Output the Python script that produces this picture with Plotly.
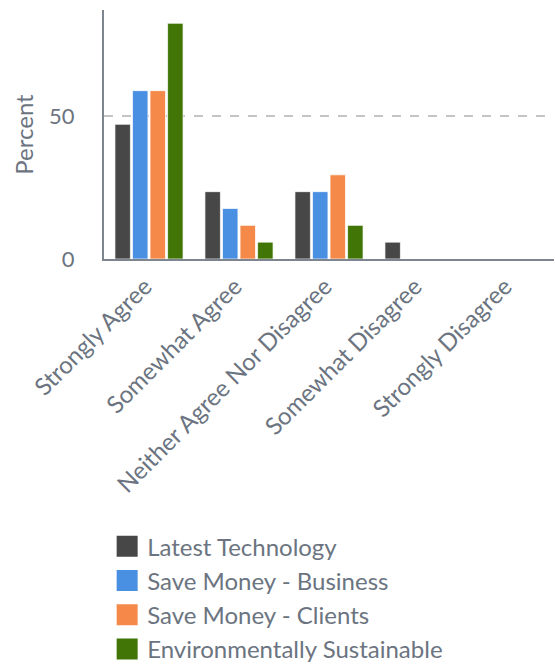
import plotly.graph_objects as go

# Survey responses (n = 17), shown as percent of respondents
categories = ["Strongly Agree", "Somewhat Agree", "Neither Agree Nor Disagree",
              "Somewhat Disagree", "Strongly Disagree"]
latest_technology = [47.06, 23.53, 23.53, 5.88, 0]
save_money_business = [58.82, 17.65, 23.53, 0, 0]
save_money_clients = [58.82, 11.76, 29.41, 0, 0]
environmentally_sustainable = [82.35, 5.88, 11.76, 0, 0]

series_names = ["Latest Technology", "Save Money - Business",
                "Save Money - Clients", "Environmentally Sustainable"]
series_values = [latest_technology, save_money_business,
                 save_money_clients, environmentally_sustainable]
colors = ["#474747", "#4a90e2", "#f5894a", "#417505"]

y_ticks = [0, 50]

text_color = "#6b7480"
axis_color = "#7d858f"
font_family = "Lato, 'Open Sans', sans-serif"

fig = go.Figure()
for name, vals, col in zip(series_names, series_values, colors):
    fig.add_trace(go.Bar(
        x=categories, y=vals, name=name,
        marker=dict(color=col, line=dict(color="rgba(255,255,255,0.7)", width=1)),
        showlegend=False, legendgroup=name,
    ))
    # larger square swatch for the legend entry
    fig.add_trace(go.Scatter(
        x=[None], y=[None], mode="markers", name=name, legendgroup=name,
        marker=dict(symbol="square", size=16, color=col,
                    line=dict(color=col, width=5)),
    ))

fig.update_layout(
    width=555, height=665,
    margin=dict(l=104, r=1, t=10, b=406, autoexpand=False),
    paper_bgcolor="white", plot_bgcolor="white",
    font=dict(family=font_family, size=24, color=text_color),
    barmode="group", bargap=0.22, bargroupgap=0.12,
    showlegend=True,
    legend=dict(
        x=0.007, y=-1.065, xanchor="left", yanchor="top",
        font=dict(size=24, color=text_color),
        tracegroupgap=0, itemsizing="trace",
        bgcolor="rgba(0,0,0,0)",
    ),
)
fig.update_xaxes(
    showline=True, linecolor=axis_color, linewidth=2,
    showgrid=False, ticks="", tickangle=-45, automargin=False,
    ticklabelshift=-4, ticklabelstandoff=2,
    tickfont=dict(size=24, color=text_color),
)
fig.update_yaxes(
    range=[0, 87], tickvals=y_ticks, automargin=False,
    showline=True, linecolor=axis_color, linewidth=2,
    showgrid=True, gridcolor="#c4c4c4", griddash="dash", gridwidth=1.5,
    zeroline=False, ticks="", ticklabelstandoff=23,
    tickfont=dict(size=22, color=text_color),
    title=dict(text="Percent", font=dict(size=24, color=text_color), standoff=9),
)

fig.write_html("out.html")
